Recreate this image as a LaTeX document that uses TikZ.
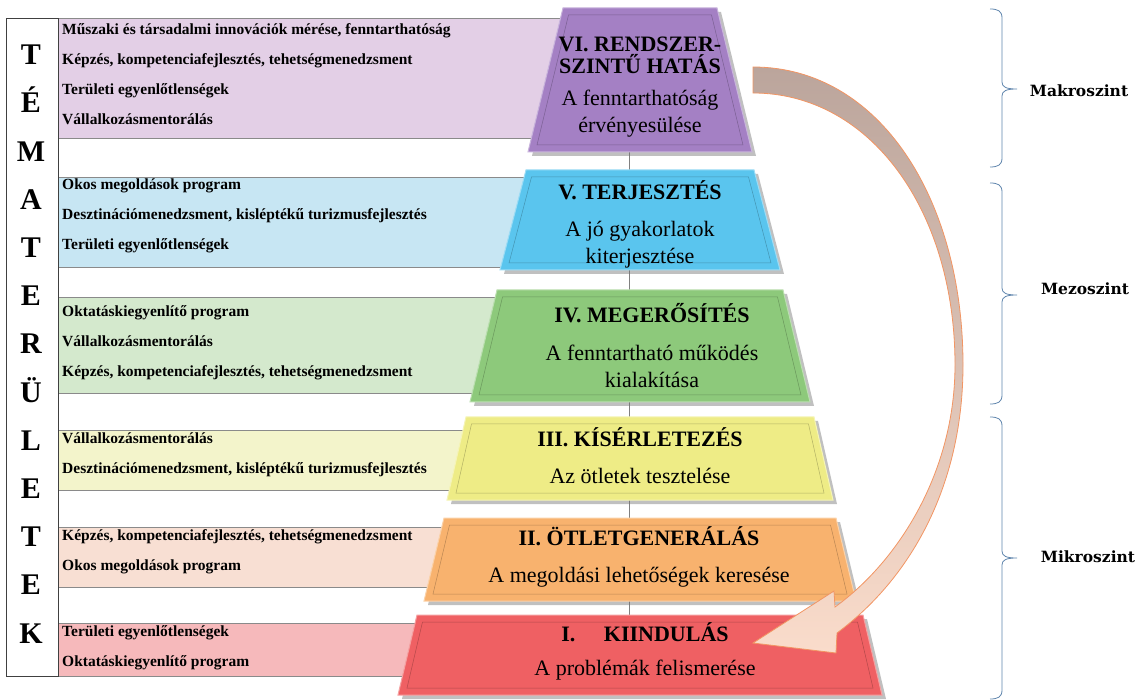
\documentclass[tikz,border=0pt]{standalone}
\usepackage{fontspec}
\setmainfont{Liberation Serif}
\newfontfamily\levelfont{DejaVu Serif}

\definecolor{lilac}{HTML}{A480C4}
\definecolor{lilacband}{HTML}{E3CFE6}
\definecolor{sky}{HTML}{5AC5EE}
\definecolor{skyband}{HTML}{C7E6F3}
\definecolor{leaf}{HTML}{8DC97B}
\definecolor{leafband}{HTML}{D4E9CD}
\definecolor{lemon}{HTML}{EEEC86}
\definecolor{lemonband}{HTML}{F3F4CB}
\definecolor{apricot}{HTML}{F8B26E}
\definecolor{apricotband}{HTML}{F8DFD3}
\definecolor{coral}{HTML}{EF6063}
\definecolor{coralband}{HTML}{F6B9BB}
\definecolor{bandline}{HTML}{8A8A8A}
\definecolor{bracecol}{HTML}{5E84AC}
\definecolor{arrowtop}{HTML}{BBA59C}
\definecolor{arrowmid}{HTML}{D2B2A4}
\definecolor{arrowbot}{HTML}{FADCCB}
\definecolor{arrowedge}{HTML}{F29563}

% one level of the pyramid: top y, bottom y, half top width, half bottom width, colour
\newcommand{\levelshape}[5]{%
  \fill[black!55, opacity=.45] (644-#3,#1+4) -- (644+#3,#1+4) -- (644+#4,#2+4) -- (644-#4,#2+4) -- cycle;
  \filldraw[fill=#5, draw=#5!60!white, line width=1pt] (640-#3,#1) -- (640+#3,#1) -- (640+#4,#2) -- (640-#4,#2) -- cycle;
  \draw[#5!75!black, line width=.5pt] (640-#3+5.5,#1+7) -- (640+#3-5.5,#1+7) -- (640+#4-9,#2-7) -- (640-#4+9,#2-7) -- cycle;
}

% curly bracket on the right: top y, tip y, bottom y
\newcommand{\levelbrace}[3]{%
  \draw[bracecol, line width=.8pt] (990,#1) .. controls (998,#1) and (1002,#1+2) .. (1002,#1+9)
    -- (1002,#2-7) .. controls (1002,#2-2) and (1006,#2) .. (1017,#2)
    .. controls (1006,#2) and (1002,#2+2) .. (1002,#2+7)
    -- (1002,#3-9) .. controls (1002,#3-2) and (998,#3) .. (990,#3);
}

\begin{document}
\begin{tikzpicture}[
  x=1pt, y=-1pt,
  band/.style={draw=bandline, line width=.6pt},
  bandtext/.style={anchor=west, align=left, inner sep=0pt, font=\fontsize{15.5}{30}\selectfont\bfseries},
  leveltext/.style={align=center, inner sep=0pt, font=\fontsize{22}{27}\selectfont},
  levelname/.style={font=\levelfont\fontsize{15.5}{18}\selectfont\bfseries},
  stem/.style={draw=black!50, line width=.8pt}
]
\useasboundingbox (0,0) rectangle (1146,700);

% Bands with the topics
\draw[band, fill=lilacband] (58,18) rectangle (600,138);
\draw[band, fill=skyband] (58,177) rectangle (600,267);
\draw[band, fill=leafband] (58,297) rectangle (600,393);
\draw[band, fill=lemonband] (58,430) rectangle (600,490);
\draw[band, fill=apricotband] (58,527) rectangle (600,587);
\draw[band, fill=coralband] (58,623) rectangle (600,676);

% Left frame
\node[draw=black!75, line width=1pt, minimum width=52, minimum height=657, inner sep=0pt] (frame) at (32,347.5) {};
\node[align=center, inner sep=0pt, font=\fontsize{30}{48.2}\selectfont\bfseries] (temak) at (31,344)
  {T\\É\\M\\A\\T\\E\\R\\Ü\\L\\E\\T\\E\\K};

% Stem behind the pyramid
\coordinate (stemtop) at (629,152);
\coordinate (stembot) at (629,615);
\draw[stem] (stemtop) -- (stembot);

% Pyramid levels
\levelshape{8}{152}{77}{112}{lilac}
\levelshape{170}{270}{114}{140}{sky}
\levelshape{290}{402}{143}{170}{leaf}
\levelshape{417}{500}{174}{193}{lemon}
\levelshape{518}{601}{196}{216}{apricot}
\levelshape{615}{695}{223}{242}{coral}

\node[leveltext] (l6) at (640,87) {\textbf{VI. RENDSZER-}\\[-5pt]\textbf{SZINTŰ HATÁS}\\[5pt]A fenntarthatóság\\érvényesülése};
\node[leveltext] (l5) at (640,224) {\textbf{V. TERJESZTÉS}\\[10pt]A jó gyakorlatok\\kiterjesztése};
\node[leveltext] (l4) at (652,346) {\textbf{IV. MEGERŐSÍTÉS}\\[11pt]A fenntartható működés\\kialakítása};
\node[leveltext] (l3) at (640,456) {\textbf{III. KÍSÉRLETEZÉS}\\[10pt]Az ötletek tesztelése};
\node[leveltext] (l2) at (639,557) {\textbf{II. ÖTLETGENERÁLÁS}\\[10pt]A megoldási lehetőségek keresése};
\node[leveltext] (l1) at (645,651) {\textbf{I.\hspace{1.3em}KIINDULÁS}\\[7pt]A problémák felismerése};

% Topic lists
\node[bandtext] (t6) at (62,74.5) {Műszaki és társadalmi innovációk mérése, fenntarthatóság\\Képzés, kompetenciafejlesztés, tehetségmenedzsment\\Területi egyenlőtlenségek\\Vállalkozásmentorálás};
\node[bandtext] (t5) at (62,216) {Okos megoldások program\\Desztinációmenedzsment, kisléptékű turizmusfejlesztés\\Területi egyenlőtlenségek};
\node[bandtext] (t4) at (62,343) {Oktatáskiegyenlítő program\\Vállalkozásmentorálás\\Képzés, kompetenciafejlesztés, tehetségmenedzsment};
\node[bandtext] (t3) at (62,455) {Vállalkozásmentorálás\\Desztinációmenedzsment, kisléptékű turizmusfejlesztés};
\node[bandtext] (t2) at (62,552) {Képzés, kompetenciafejlesztés, tehetségmenedzsment\\Okos megoldások program};
\node[bandtext] (t1) at (62,648) {Területi egyenlőtlenségek\\Oktatáskiegyenlítő program};

% Levels on the right
\levelbrace{9}{89}{167}
\levelbrace{183}{295}{404}
\levelbrace{417}{558}{699}
\node[levelname] (makro) at (1079,91) {Makroszint};
\node[levelname] (mezo) at (1085,289) {Mezoszint};
\node[levelname] (mikro) at (1088,557) {Mikroszint};

% Big curved arrow from the top level down to the first one
\shadedraw[top color=arrowtop, middle color=arrowmid, bottom color=arrowbot, draw=arrowedge, line width=.8pt]
  (753,67) .. controls (880,67) and (963,200) .. (963,365)
  .. controls (963,480) and (915,575) .. (837,633)
  -- (836,653) -- (753,643) -- (834,591) -- (835,607)
  .. controls (900,560) and (955,470) .. (955,365)
  .. controls (955,210) and (870,93) .. (753,93) -- cycle;

\end{tikzpicture}
\end{document}
